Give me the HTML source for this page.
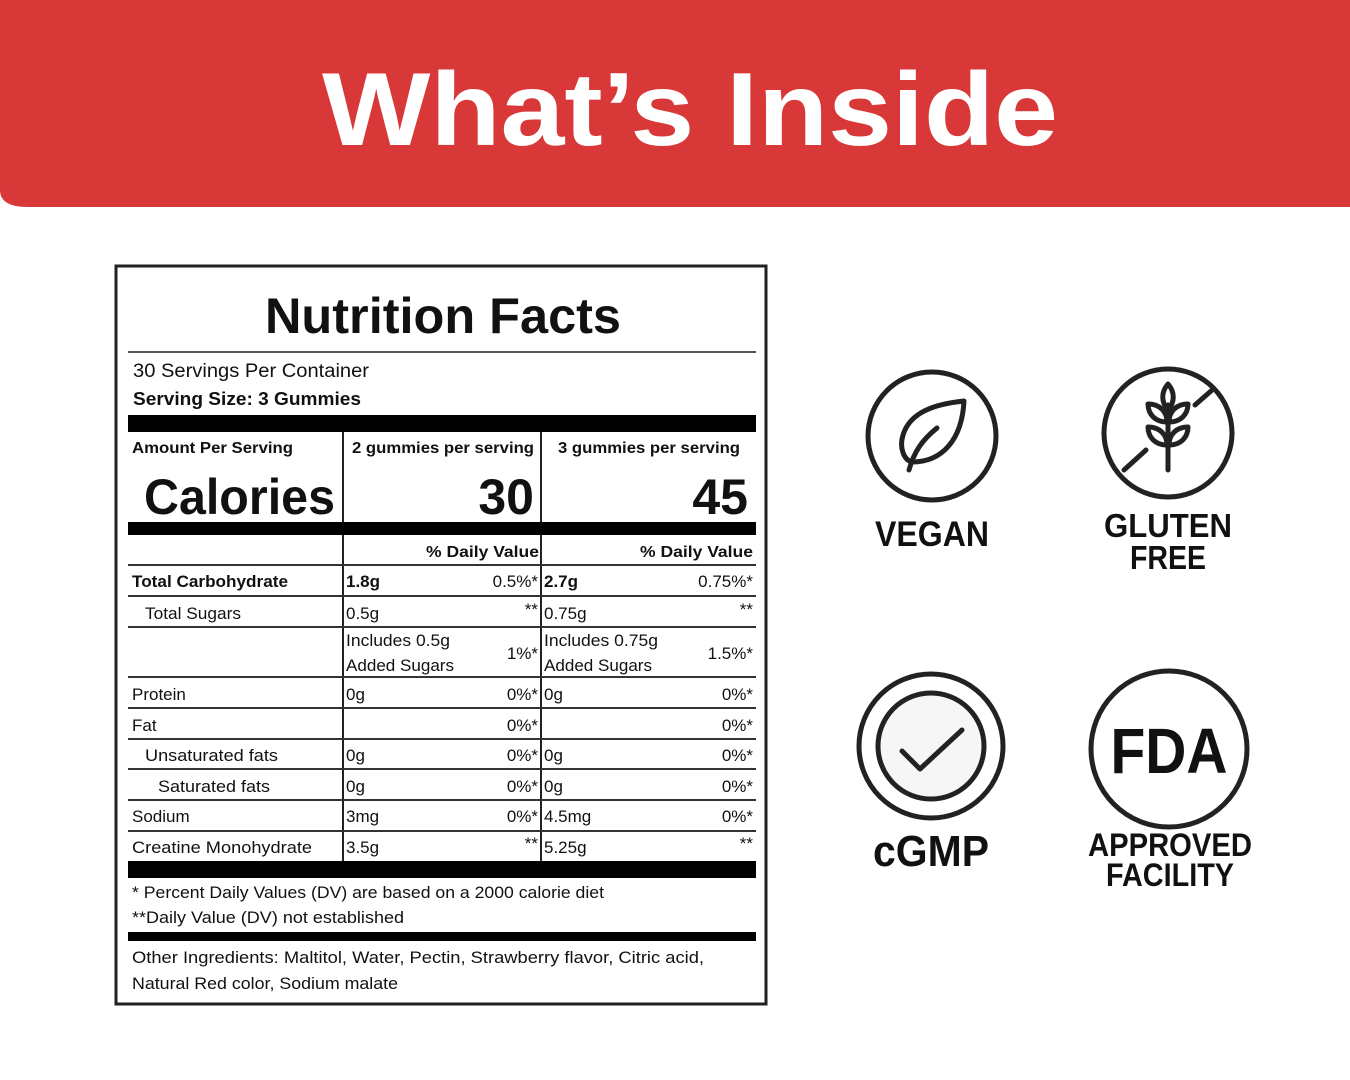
<!DOCTYPE html>
<html><head><meta charset="utf-8"><style>
html,body{margin:0;padding:0;background:#fff;width:1350px;height:1080px;overflow:hidden}
svg{display:block}
text{font-family:"Liberation Sans",sans-serif;fill:#111}
</style></head><body>
<svg width="1350" height="1080" viewBox="0 0 1350 1080">
<path d="M0 0H1350V207H28Q0 207 0 190Z" fill="#d93838"/>
<text x="690" y="145" text-anchor="middle" font-size="104" font-weight="bold" style="fill:#fff" textLength="736" lengthAdjust="spacingAndGlyphs">What’s Inside</text>

<rect x="116" y="266" width="650" height="738" fill="none" stroke="#222" stroke-width="3"/>
<text x="443" y="333" text-anchor="middle" font-size="50" font-weight="bold" textLength="356" lengthAdjust="spacingAndGlyphs">Nutrition Facts</text>
<line x1="128" y1="352" x2="756" y2="352" stroke="#555" stroke-width="2"/>
<text x="133" y="377" font-size="19" textLength="236" lengthAdjust="spacingAndGlyphs">30 Servings Per Container</text>
<text x="133" y="405" font-size="18" font-weight="bold" textLength="228" lengthAdjust="spacingAndGlyphs">Serving Size: 3 Gummies</text>
<rect x="128" y="415" width="628" height="17" fill="#000"/>
<line x1="343" y1="432" x2="343" y2="861" stroke="#222" stroke-width="2"/>
<line x1="541" y1="432" x2="541" y2="861" stroke="#222" stroke-width="2"/>
<g font-size="16" font-weight="bold">
<text x="132" y="453" textLength="161" lengthAdjust="spacingAndGlyphs">Amount Per Serving</text>
<text x="352" y="453" textLength="182" lengthAdjust="spacingAndGlyphs">2 gummies per serving</text>
<text x="558" y="453" textLength="182" lengthAdjust="spacingAndGlyphs">3 gummies per serving</text>
</g>
<g font-size="50" font-weight="bold">
<text x="144" y="514" textLength="191" lengthAdjust="spacingAndGlyphs">Calories</text>
<text x="534" y="514" text-anchor="end">30</text>
<text x="748" y="514" text-anchor="end">45</text>
</g>
<rect x="128" y="522" width="628" height="13" fill="#000"/>
<g font-size="16" font-weight="bold">
<text x="539" y="557" text-anchor="end" textLength="113" lengthAdjust="spacingAndGlyphs">%  Daily Value</text>
<text x="753" y="557" text-anchor="end" textLength="113" lengthAdjust="spacingAndGlyphs">%  Daily Value</text>
</g>
<g stroke="#333" stroke-width="2">
<line x1="128" y1="565" x2="756" y2="565"/><line x1="128" y1="596" x2="756" y2="596"/>
<line x1="128" y1="627" x2="756" y2="627"/><line x1="128" y1="677" x2="756" y2="677"/>
<line x1="128" y1="708" x2="756" y2="708"/><line x1="128" y1="739" x2="756" y2="739"/>
<line x1="128" y1="769" x2="756" y2="769"/><line x1="128" y1="800" x2="756" y2="800"/>
<line x1="128" y1="831" x2="756" y2="831"/>
</g>
<g font-size="17">
<text x="132" y="587" font-weight="bold" textLength="156" lengthAdjust="spacingAndGlyphs">Total Carbohydrate</text>
<text x="346" y="587" font-weight="bold">1.8g</text><text x="538" y="587" text-anchor="end">0.5%*</text>
<text x="544" y="587" font-weight="bold">2.7g</text><text x="753" y="587" text-anchor="end">0.75%*</text>

<text x="145" y="619" textLength="96" lengthAdjust="spacingAndGlyphs">Total Sugars</text>
<text x="346" y="619">0.5g</text><text x="538" y="615" text-anchor="end">**</text>
<text x="544" y="619">0.75g</text><text x="753" y="615" text-anchor="end">**</text>

<text x="346" y="646" textLength="104" lengthAdjust="spacingAndGlyphs">Includes 0.5g</text><text x="346" y="671" textLength="108" lengthAdjust="spacingAndGlyphs">Added Sugars</text><text x="538" y="659" text-anchor="end">1%*</text>
<text x="544" y="646" textLength="114" lengthAdjust="spacingAndGlyphs">Includes 0.75g</text><text x="544" y="671" textLength="108" lengthAdjust="spacingAndGlyphs">Added Sugars</text><text x="753" y="659" text-anchor="end">1.5%*</text>

<text x="132" y="700">Protein</text><text x="346" y="700">0g</text><text x="538" y="700" text-anchor="end">0%*</text><text x="544" y="700">0g</text><text x="753" y="700" text-anchor="end">0%*</text>
<text x="132" y="731">Fat</text><text x="538" y="731" text-anchor="end">0%*</text><text x="753" y="731" text-anchor="end">0%*</text>
<text x="145" y="761" textLength="133" lengthAdjust="spacingAndGlyphs">Unsaturated fats</text><text x="346" y="761">0g</text><text x="538" y="761" text-anchor="end">0%*</text><text x="544" y="761">0g</text><text x="753" y="761" text-anchor="end">0%*</text>
<text x="158" y="792" textLength="112" lengthAdjust="spacingAndGlyphs">Saturated fats</text><text x="346" y="792">0g</text><text x="538" y="792" text-anchor="end">0%*</text><text x="544" y="792">0g</text><text x="753" y="792" text-anchor="end">0%*</text>
<text x="132" y="822">Sodium</text><text x="346" y="822">3mg</text><text x="538" y="822" text-anchor="end">0%*</text><text x="544" y="822">4.5mg</text><text x="753" y="822" text-anchor="end">0%*</text>
<text x="132" y="853" textLength="180" lengthAdjust="spacingAndGlyphs">Creatine Monohydrate</text><text x="346" y="853">3.5g</text><text x="538" y="849" text-anchor="end">**</text><text x="544" y="853">5.25g</text><text x="753" y="849" text-anchor="end">**</text>
</g>
<rect x="128" y="861" width="628" height="17" fill="#000"/>
<g font-size="17">
<text x="132" y="898" textLength="472" lengthAdjust="spacingAndGlyphs">* Percent Daily Values (DV) are based on a 2000 calorie diet</text>
<text x="132" y="923" textLength="272" lengthAdjust="spacingAndGlyphs">**Daily Value (DV) not established</text>
</g>
<rect x="128" y="932" width="628" height="9" fill="#000"/>
<g font-size="17">
<text x="132" y="963" textLength="572" lengthAdjust="spacingAndGlyphs">Other Ingredients:  Maltitol, Water, Pectin, Strawberry flavor, Citric acid,</text>
<text x="132" y="989" textLength="266" lengthAdjust="spacingAndGlyphs">Natural Red color, Sodium malate</text>
</g>

<g fill="none" stroke="#222" stroke-width="5" stroke-linecap="round" stroke-linejoin="round">
<circle cx="932" cy="436" r="64"/>
<path d="M964 401C935 404 910 412 903 435C899 448 904 460 912 462C942 462 962 440 964 401Z"/>
<path d="M937 428C922 440 914 452 909 470"/>
<circle cx="1168" cy="433" r="64"/>
<path d="M1124 470L1146 450M1195 405L1211 391"/>
<path d="M1168 405V470"/>
<path d="M1168 384C1161 392 1161 402 1168 410C1175 402 1175 392 1168 384Z"/>
<path d="M1148 404C1160 404 1167 412 1167 422C1155 422 1148 414 1148 404Z"/>
<path d="M1188 404C1176 404 1169 412 1169 422C1181 422 1188 414 1188 404Z"/>
<path d="M1148 427C1160 427 1167 435 1167 445C1155 445 1148 437 1148 427Z"/>
<path d="M1188 427C1176 427 1169 435 1169 445C1181 445 1188 437 1188 427Z"/>
<circle cx="931" cy="746" r="72"/>
<circle cx="931" cy="746" r="53" fill="#f6f6f6"/>
<path d="M902 751L920 769L962 730"/>
<circle cx="1169" cy="749" r="78"/>
</g>
<g font-weight="bold" text-anchor="middle" style="fill:#222">
<text x="932" y="546" font-size="35" textLength="114" lengthAdjust="spacingAndGlyphs">VEGAN</text>
<text x="1168" y="537" font-size="33" textLength="128" lengthAdjust="spacingAndGlyphs">GLUTEN</text>
<text x="1168" y="569" font-size="33" textLength="76" lengthAdjust="spacingAndGlyphs">FREE</text>
<text x="931" y="866" font-size="44" textLength="116" lengthAdjust="spacingAndGlyphs">cGMP</text>
<text x="1169" y="773" font-size="64" textLength="117" lengthAdjust="spacingAndGlyphs">FDA</text>
<text x="1170" y="856" font-size="32" textLength="164" lengthAdjust="spacingAndGlyphs">APPROVED</text>
<text x="1170" y="886" font-size="32" textLength="128" lengthAdjust="spacingAndGlyphs">FACILITY</text>
</g>
</svg>
</body></html>
